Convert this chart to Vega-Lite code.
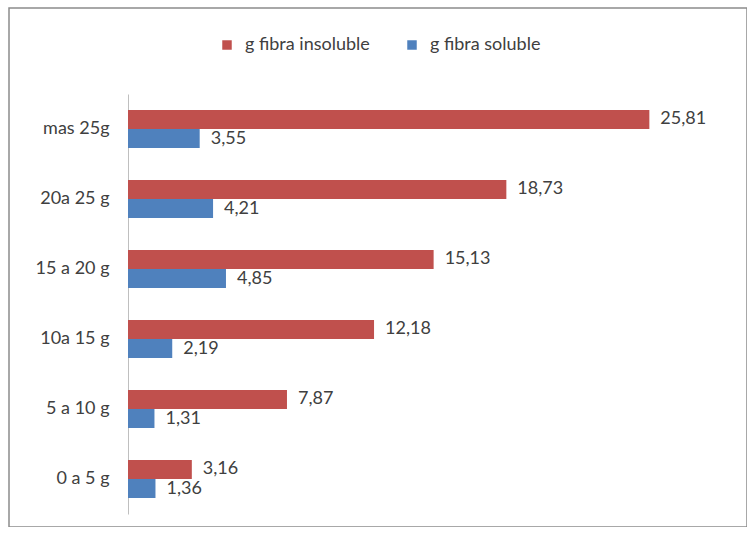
{
  "$schema": "https://vega.github.io/schema/vega-lite/v6.json",
  "width": 738,
  "height": 519,
  "autosize": "none",
  "padding": {"left": 9, "top": 8, "right": 0, "bottom": 0},
  "background": "white",
  "config": {
    "view": {"stroke": "#8c8c8c", "strokeWidth": 1.5},
    "font": "Lato"
  },
  "data": {
    "values": [
      {"cat": "mas 25g", "serie": "g fibra insoluble", "valor": 25.81, "label": "25,81"},
      {"cat": "mas 25g", "serie": "g fibra soluble", "valor": 3.55, "label": "3,55"},
      {"cat": "20a 25 g", "serie": "g fibra insoluble", "valor": 18.73, "label": "18,73"},
      {"cat": "20a 25 g", "serie": "g fibra soluble", "valor": 4.21, "label": "4,21"},
      {"cat": "15 a 20 g", "serie": "g fibra insoluble", "valor": 15.13, "label": "15,13"},
      {"cat": "15 a 20 g", "serie": "g fibra soluble", "valor": 4.85, "label": "4,85"},
      {"cat": "10a 15 g", "serie": "g fibra insoluble", "valor": 12.18, "label": "12,18"},
      {"cat": "10a 15 g", "serie": "g fibra soluble", "valor": 2.19, "label": "2,19"},
      {"cat": "5 a 10 g", "serie": "g fibra insoluble", "valor": 7.87, "label": "7,87"},
      {"cat": "5 a 10 g", "serie": "g fibra soluble", "valor": 1.31, "label": "1,31"},
      {"cat": "0 a 5 g", "serie": "g fibra insoluble", "valor": 3.16, "label": "3,16"},
      {"cat": "0 a 5 g", "serie": "g fibra soluble", "valor": 1.36, "label": "1,36"}
    ]
  },
  "encoding": {
    "y": {
      "field": "cat",
      "type": "nominal",
      "sort": ["mas 25g", "20a 25 g", "15 a 20 g", "10a 15 g", "5 a 10 g", "0 a 5 g"],
      "scale": {"range": [86, 506], "paddingInner": 0.457, "paddingOuter": 0.2285},
      "axis": {
        "title": null,
        "offset": -119,
        "ticks": false,
        "domainColor": "#bfbfbf",
        "domainWidth": 1,
        "labelPadding": 19,
        "labelFontSize": 18,
        "labelColor": "#404040",
        "labelFont": "Lato",
        "grid": false
      }
    },
    "yOffset": {
      "field": "serie",
      "type": "nominal",
      "sort": ["g fibra insoluble", "g fibra soluble"]
    },
    "x": {
      "field": "valor",
      "type": "quantitative",
      "scale": {"domain": [0, 30], "range": [119, 725], "nice": false},
      "axis": null
    }
  },
  "layer": [
    {
      "mark": {"type": "bar"},
      "encoding": {
        "color": {
          "field": "serie",
          "type": "nominal",
          "sort": ["g fibra insoluble", "g fibra soluble"],
          "scale": {"domain": ["g fibra insoluble", "g fibra soluble"], "range": ["#C0504D", "#4F81BD"]},
          "legend": {
            "title": null,
            "orient": "none",
            "direction": "horizontal",
            "legendX": 209,
            "legendY": 28,
            "symbolType": "square",
            "symbolSize": 90,
            "symbolStrokeWidth": 0,
            "labelFontSize": 18,
            "labelColor": "#404040",
            "labelFont": "Lato",
            "labelOffset": 9,
            "columnPadding": 33
          }
        }
      }
    },
    {
      "mark": {"type": "text", "align": "left", "baseline": "middle", "dx": 11, "fontSize": 18, "color": "#404040", "font": "Lato"},
      "encoding": {
        "text": {"field": "label"}
      }
    }
  ]
}
